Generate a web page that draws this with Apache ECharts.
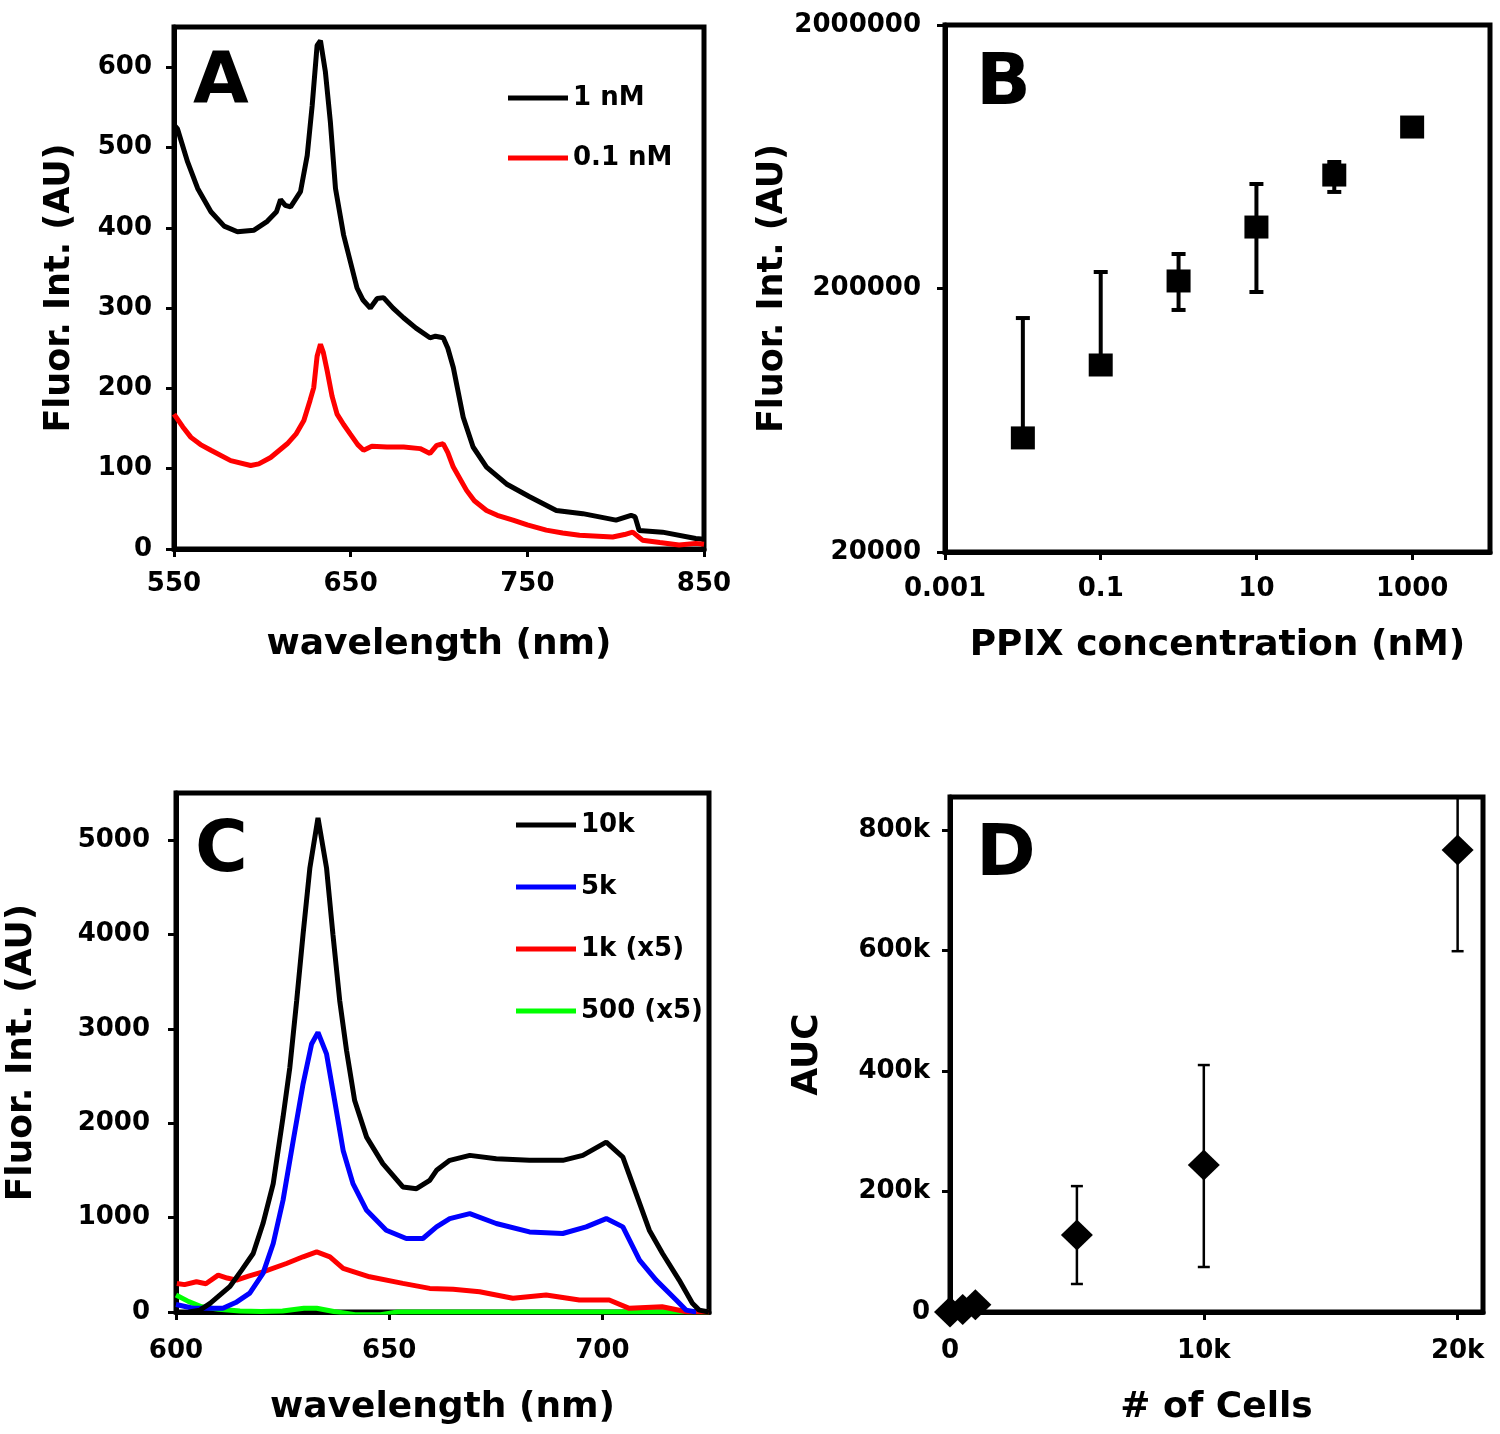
<!DOCTYPE html>
<html><head><meta charset="utf-8">
<script src="https://cdn.jsdelivr.net/npm/echarts@6/dist/echarts.min.js"></script>
<style>html,body{margin:0;padding:0;background:#fff}#c{width:1500px;height:1434px}</style>
</head><body><div id="c"></div><script>
// ---------- Panel A: emission spectra (PPIX solutions) ----------
const aWave1 = [550,552,557.7,563.4,570.9,578.4,585.9,595.3,602.8,608,610.3,613,616,621.6,625.4,628.2,631,632.9,635.7,638.5,641.4,646,649.8,653.6,657,661.1,665,668.6,674,679.9,687,694.9,698,702.4,705,708.1,713.7,719.3,726.9,738.2,751.3,766.4,781.4,800.2,808.7,811,813.3,826.5,845.3,850];
const aInt1  = [528,523,482,449,420,402,395,397,408,420,435,428,426,445,490,552,627,633,594,532,449,391,358,325,310,300,312,313,300,288,275,263,265,263,250,226,164,127,102,81,65,48,44,36,42,40,23,21,13,12];
const aWave2 = [550,555,559.6,565,570.9,582.1,593.4,598,604.7,614.1,619,623.5,627,629.1,631,632.9,634.5,636.7,639.5,642.3,646,649.8,654,657.3,662,670.5,680,689.3,694.9,698.7,702.4,705,708.1,715.6,720,726.9,733,741.9,750,760.7,770,779.5,798.3,805,809.6,815.2,825,835.9,845.3,850];
const aInt2  = [168,152,139,130,123,110,104,106,114,131,143,160,185,201,240,255,245,222,190,168,155,143,130,123,128,127,127,125,119,129,131,120,102,73,60,48,42,36,30,23.5,20,17,15,18,21,11,8,5,7,6];
const aNames = ['1 nM', '0.1 nM'];
const aTicksY = [0,100,200,300,400,500,600];
const aTicksX = [550,650,750,850];

// ---------- Panel B: fluorescence vs PPIX concentration ----------
const bConc  = [0.01, 0.1, 1, 10, 100, 1000];
const bFluor = [54200, 102500, 213600, 342200, 539000, 820000];
const bErrLo = [54200, 102500, 165800, 194000, 465000, null];
const bErrHi = [154500, 231000, 270400, 498500, 604000, null];
const bTicksX = [0.001, 0.1, 10, 1000];
const bTicksY = [20000, 200000, 2000000];

// ---------- Panel C: spectra from cells ----------
const cWave10k = [603,605.6,608,612.6,615.4,618.1,620.4,622.8,625.1,626.7,628.3,629.8,631.4,633.3,635.3,636.8,638.4,640,641.9,644.7,648.5,653.2,656.4,659.5,661.1,664.2,668.9,675.1,682.9,690.7,695.4,700.9,704.8,707.9,711,714.1,718,721.1,722.7,725];
const cInt10k  = [0,20,92,268,444,620,937,1360,2064,2593,3298,4003,4707,5236,4707,4003,3298,2770,2241,1853,1572,1325,1307,1395,1501,1607,1660,1625,1607,1607,1660,1800,1642,1255,867,620,338,92,20,0];
const cWave5k  = [600,604,611,614,617.3,620.4,622.8,625.1,627.5,629.8,631.8,633.3,635.3,637.2,639.2,641.5,644.7,649.3,654,657.9,661.1,664.2,668.9,675.1,682.9,690.7,696.2,700.9,704.8,708.7,712.6,717.3,719.6,722];
const cInt5k   = [80,40,40,100,200,409,726,1184,1818,2417,2840,2963,2735,2241,1712,1360,1078,867,779,779,902,990,1043,938,849,832,902,990,902,550,338,127,20,0];
const cWave1k  = [600.2,602,604.8,607,609.9,612,614.2,617,620.4,625.9,629.8,633,636.1,639.2,645.4,653.2,659.5,665,671.2,679,686.8,694.6,701.6,706.3,714,720,725];
const cInt1k   = [303,290,320,300,391,360,338,380,426,514,585,637,585,462,373,303,250,240,215,145,180,127,127,39,56,0,0];
const cWave500 = [600,603,606,610,615,620,625,630,633,637,642,648,652,725];
const cInt500  = [180,110,56,30,10,5,10,40,40,5,-30,-30,0,0];
const cNames = ['10k', '5k', '1k (x5)', '500 (x5)'];
const cTicksY = [0,1000,2000,3000,4000,5000];
const cTicksX = [600,650,700];

// ---------- Panel D: AUC vs number of cells ----------
const dCells = [0, 500, 1000, 5000, 10000, 20000];
const dAuc   = [0, 4000, 12000, 128000, 244000, 767000];
const dErrLo = [null, null, null, 46500, 74700, 599000];
const dErrHi = [null, null, null, 209000, 410000, 935000];
const dTicksX = [0, 10000, 20000];
const dTicksY = [0, 200000, 400000, 600000, 800000];

const FONT = '"DejaVu Sans", sans-serif';
const zip = (xs, ys) => xs.map((x, i) => [x, ys[i]]);
const plain = v => String(v);
const kfmt = v => (v === 0 ? '0' : Math.round(v / 1000) + 'k');

function axisBase(gridIndex, extra) {
  return Object.assign({
    gridIndex,
    axisLine: { show: true, onZero: false, lineStyle: { color: '#000', width: 5 } },
    splitLine: { show: false },
    nameLocation: 'middle',
    nameTextStyle: { color: '#000', fontFamily: FONT, fontWeight: 'bold', fontSize: 36 },
  }, extra);
}
function ticks(vals) {
  return { show: true, inside: false, length: 8, customValues: vals, lineStyle: { color: '#000', width: 3 } };
}
function labels(vals, margin, fmt) {
  return { customValues: vals, margin, color: '#000', fontFamily: FONT, fontWeight: 'bold', fontSize: 26, formatter: fmt || plain };
}
function errBar(capHalf, lw) {
  return function (params, api) {
    const x = api.value(0), lo = api.value(1), hi = api.value(2);
    if (isNaN(lo) || isNaN(hi)) return null;
    const p1 = api.coord([x, lo]), p2 = api.coord([x, hi]);
    const st = { stroke: '#000', lineWidth: lw };
    return { type: 'group', children: [
      { type: 'line', shape: { x1: p1[0], y1: p1[1], x2: p2[0], y2: p2[1] }, style: st },
      { type: 'line', shape: { x1: p2[0] - capHalf, y1: p2[1], x2: p2[0] + capHalf, y2: p2[1] }, style: st },
      { type: 'line', shape: { x1: p1[0] - capHalf, y1: p1[1], x2: p1[0] + capHalf, y2: p1[1] }, style: st }
    ]};
  };
}
function lineSeries(name, x, y, g, color) {
  return { type: 'line', name, xAxisIndex: g, yAxisIndex: g, data: zip(x, y), showSymbol: false, symbol: 'none',
    lineStyle: { color, width: 5 }, itemStyle: { color }, clip: true, animation: false };
}
const yName = { color: '#000', fontFamily: FONT, fontWeight: 'bold', fontSize: 35 };
const gridStyle = { show: true, borderColor: '#000', borderWidth: 5, backgroundColor: 'transparent' };
const letterStyle = { fontSize: 72, fontWeight: 'bold', fontFamily: FONT, color: '#000' };
const legendText = { fontSize: 26, fontWeight: 'bold', fontFamily: FONT, color: '#000', lineHeight: 30 };

const option = {
  animation: false,
  backgroundColor: '#fff',
  title: [
    { text: 'A', left: 193, top: 47, padding: 0, textStyle: letterStyle },
    { text: 'B', left: 976, top: 49, padding: 0, textStyle: letterStyle },
    { text: 'C', left: 195, top: 816, padding: 0, textStyle: letterStyle },
    { text: 'D', left: 976, top: 820, padding: 0, textStyle: letterStyle }
  ],
  legend: [
    { data: aNames, left: 508, top: 83, orient: 'vertical', icon: 'rect', itemWidth: 60, itemHeight: 5, itemGap: 30,
      padding: 0, selectedMode: false, textStyle: legendText },
    { data: cNames, left: 516, top: 810, orient: 'vertical', icon: 'rect', itemWidth: 60, itemHeight: 5, itemGap: 32,
      padding: 0, selectedMode: false, textStyle: legendText }
  ],
  grid: [
    Object.assign({ left: 174, top: 27, width: 530, height: 522 }, gridStyle),
    Object.assign({ left: 945, top: 25, width: 545, height: 527 }, gridStyle),
    Object.assign({ left: 176, top: 793, width: 533, height: 519 }, gridStyle),
    Object.assign({ left: 950, top: 797, width: 533, height: 515 }, gridStyle)
  ],
  xAxis: [
    axisBase(0, { type: 'value', min: 550, max: 850, name: 'wavelength (nm)', nameGap: 78,
      axisTick: ticks(aTicksX), axisLabel: labels(aTicksX, 22) }),
    axisBase(1, { type: 'log', logBase: 10, min: 0.001, max: 10000, name: 'PPIX concentration (nM)', nameGap: 76,
      axisTick: ticks(bTicksX), axisLabel: labels(bTicksX, 24, v => (v < 1 ? String(parseFloat(v.toPrecision(1))) : String(Math.round(v)))) }),
    axisBase(2, { type: 'value', min: 600, max: 725, name: 'wavelength (nm)', nameGap: 78,
      axisTick: ticks(cTicksX), axisLabel: labels(cTicksX, 26) }),
    axisBase(3, { type: 'value', min: 0, max: 21000, name: '# of Cells', nameGap: 78,
      axisTick: ticks(dTicksX), axisLabel: labels(dTicksX, 26, kfmt) })
  ],
  yAxis: [
    axisBase(0, { type: 'value', min: 0, max: 650, name: 'Fluor. Int. (AU)', nameGap: 97, nameTextStyle: yName,
      axisTick: ticks(aTicksY), axisLabel: labels(aTicksY, 22) }),
    axisBase(1, { type: 'log', logBase: 10, min: 20000, max: 2000000, name: 'Fluor. Int. (AU)', nameGap: 149, nameTextStyle: yName,
      axisTick: ticks(bTicksY), axisLabel: labels(bTicksY, 24, v => String(Math.round(v))) }),
    axisBase(2, { type: 'value', min: 0, max: 5500, name: 'Fluor. Int. (AU)', nameGap: 136,
      nameTextStyle: Object.assign({}, yName, { fontSize: 36 }),
      axisTick: ticks(cTicksY), axisLabel: labels(cTicksY, 26) }),
    axisBase(3, { type: 'value', min: 0, max: 855000, name: 'AUC', nameGap: 124,
      axisTick: ticks(dTicksY), axisLabel: labels(dTicksY, 20, kfmt) })
  ],
  series: [
    lineSeries(aNames[0], aWave1, aInt1, 0, '#000000'),
    lineSeries(aNames[1], aWave2, aInt2, 0, '#ff0000'),
    { type: 'custom', xAxisIndex: 1, yAxisIndex: 1, renderItem: errBar(7, 4), clip: true, z: 2,
      encode: { x: 0, y: [1, 2] },
      data: bConc.map((c, i) => [c, bErrLo[i] == null ? NaN : bErrLo[i], bErrHi[i] == null ? NaN : bErrHi[i]]) },
    { type: 'scatter', xAxisIndex: 1, yAxisIndex: 1, symbol: 'rect', symbolSize: [24, 23], z: 3,
      itemStyle: { color: '#000', opacity: 1 }, data: zip(bConc, bFluor) },
    lineSeries(cNames[3], cWave500, cInt500, 2, '#00ff00'),
    lineSeries(cNames[2], cWave1k, cInt1k, 2, '#ff0000'),
    lineSeries(cNames[1], cWave5k, cInt5k, 2, '#0000ff'),
    lineSeries(cNames[0], cWave10k, cInt10k, 2, '#000000'),
    { type: 'custom', xAxisIndex: 3, yAxisIndex: 3, renderItem: errBar(6, 2.5), clip: true, z: 2,
      encode: { x: 0, y: [1, 2] },
      data: dCells.map((c, i) => [c, dErrLo[i] == null ? NaN : dErrLo[i], dErrHi[i] == null ? NaN : dErrHi[i]]) },
    { type: 'scatter', xAxisIndex: 3, yAxisIndex: 3, symbol: 'diamond', symbolSize: [32, 31], z: 3, clip: false,
      itemStyle: { color: '#000', opacity: 1 }, data: zip(dCells, dAuc) }
  ]
};
const chart = echarts.init(document.getElementById('c'));
chart.setOption(option);
</script></body></html>
